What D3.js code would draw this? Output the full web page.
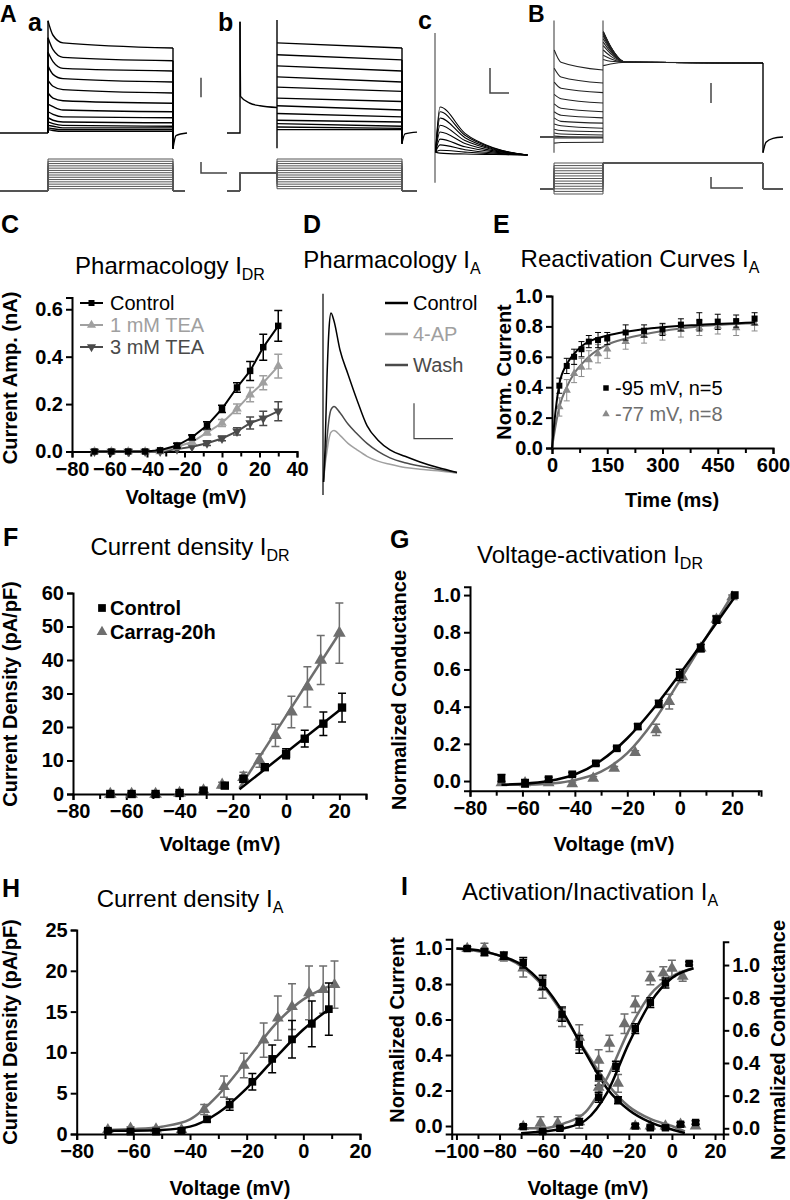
<!DOCTYPE html>
<html><head><meta charset="utf-8">
<script src="https://cdn.jsdelivr.net/npm/d3@7"></script>
<style>
body{margin:0;background:#fff}
svg{font-family:Arial,"Liberation Sans",sans-serif;display:block}
</style></head><body>
<svg id="fig" width="790" height="1200"></svg>
<script>
// ---------- data ----------
// A-a: K current family, arbitrary units (100 = steady level of largest trace)
const aPeak  = [132,112,95,79,62,47,34,25,18,13,9,6,4];
const aMid   = [115,98,84,69,55,41,31,22,15,11,8,5,3];
const aEarly = [106,89,76,64,51,38,27,19,13,9,6,4,2];
const aEnd   = [100,85,73,60,47,35,25,18,12,8,6,4,2];
const aSteps = [-70,-60,-50,-40,-30,-20,-10,0,10,20,30,40,50,60];
const aTail  = [[346,-18],[352,-3],[374,0]];
// A-b: prepulse then family
const bPre   = [[26,131],[27,43],[46,35],[66,32],[100,30]];
const bStart = [106,92,79,66,54,41,32,23,15,11,7,4];
const bEnd   = [100,86,73,60,49,37,27,19,13,8,5.5,4];
const bSteps = [-70,-60,-50,-40,-30,-20,-10,0,10,20,30,40,50,60];
const bTail  = [[350,-12],[356,-1],[380,1]];
// A-c: isolated transient family
const cPeak = [100,90,77,62,48,33,21,10,4];
const cMid  = [45,41,36,30,24,17,11,6,2];
const cLate = [14,13,11.5,10,8,6,4,2,1];
// B: reactivation protocol
const bbPeak  = [100,79,63,49,38,29,22,15,9,4.6,1,-1,-7];
const bbMid   = [86,69,56,44,33,25,18,13,7.5,3.5,0.5,-1,-6.3];
const bbEnd   = [77,62,51,39,29,22,16,10,6,2.3,0,-1,-6];
const bbPeak2 = [82,89,94,100,105,109,113,116,118,119,121,121,121];
const bbMid2  = [84,87,90,93,96,98,100,101,102,103,104,104,104];
const bbSteps = [-100,-90,-80,-70,-60,-50,-40,-30,-20,-10,0,10,20];
const bbTail  = [[450,-18],[456,-6],[470,-1.5],[490,0]];
// C: pharmacology IDR
const cVolt    = [-68,-59,-50,-41,-33,-24,-16,-8,0,8,15,22,30];
const cCtl     = [0,0,0,0,0.005,0.025,0.06,0.11,0.18,0.27,0.34,0.44,0.53];
const cCtlErr  = [0,0,0,0,0,0.01,0.01,0.015,0.015,0.02,0.04,0.055,0.065];
const cTea1    = [0,0,0,0,0,0.02,0.04,0.08,0.12,0.18,0.24,0.29,0.36];
const cTea1Err = [0,0,0,0,0,0,0.01,0.01,0.015,0.02,0.03,0.03,0.05];
const cTea3    = [0,0,0,0,0,0.01,0.02,0.035,0.055,0.085,0.12,0.14,0.17];
const cTea3Err = [0,0,0,0,0,0,0,0.01,0.01,0.015,0.025,0.03,0.04];
// D: IA traces
const dTime    = [1,4,8,12,16,22,34,50,68,88,110,134,164,194,230,268];
const dControl = [-5,15,60,90,100,95,77,62,46,30,21,15,11,7.5,4,1];
const dWash    = [-5,8,22,34,40,42,38,31,25,19,14,10,7,5,3,1];
const d4AP     = [-5,5,14,22,26,27,24,19,15,11,8,6,4,3,2,0.5];
// E: reactivation
const eTime     = [20,40,60,80,100,125,150,200,250,300,350,400,450,500,550];
const eBlack    = [0.41,0.54,0.60,0.65,0.70,0.71,0.72,0.76,0.77,0.78,0.81,0.83,0.83,0.835,0.85];
const eBlackErr = [0.05,0.05,0.05,0.05,0.04,0.05,0.04,0.05,0.04,0.04,0.04,0.06,0.05,0.04,0.04];
const eGrey     = [0.27,0.38,0.49,0.53,0.58,0.62,0.65,0.70,0.74,0.76,0.78,0.79,0.80,0.79,0.82];
const eGreyErr  = [0.06,0.07,0.06,0.06,0.06,0.06,0.06,0.05,0.05,0.05,0.05,0.05,0.05,0.05,0.05];
const eFitBlack = [[0,0],[10,0.25],[20,0.42],[40,0.55],[60,0.62],[80,0.67],[100,0.70],[150,0.74],[200,0.765],[300,0.795],[400,0.81],[550,0.825]];
const eFitGrey  = [[0,0],[10,0.15],[20,0.27],[40,0.40],[60,0.49],[80,0.55],[100,0.60],[150,0.68],[200,0.72],[300,0.77],[400,0.80],[550,0.82]];
// F: current density IDR
const fVoltCtl = [-66,-58,-49,-40,-31,-23,-16,-8,0,7,14,21];
const fCtl     = [0,0,0,0.3,1,2.5,4.5,8,12,16.5,21,25.8];
const fCtlErr  = [0.3,0.3,0.3,0.4,0.5,0.8,1,0.6,1.5,2.5,3.5,4.3];
const fVoltCar = [-66,-58,-49,-40,-31,-24,-16,-10,-4,2,8,13,20];
const fCar     = [0,0,0,0.3,1,2.7,5,10,17.5,24.5,32,40,48];
const fCarErr  = [0.3,0.3,0.3,0.4,0.5,0.8,1.5,2,3.3,4.7,6,7.3,9];
const fFitCtl  = [[-17.5,1.4],[21,25.6]];
const fFitCar  = [[-17.5,1.8],[20,48]];
// G: voltage activation IDR
const gVoltCtl = [-68,-59,-50,-41,-32,-24,-16,-8,0,8,14,21];
const gCtl     = [0.015,-0.012,0.01,0.036,0.095,0.176,0.293,0.415,0.571,0.715,0.868,1.0];
const gCtlErr  = [0.02,0.02,0.01,0.01,0.01,0.01,0.015,0.02,0.03,0.02,0.02,0];
const gVoltCar = [-68,-59,-50,-41,-33,-25,-17,-9,-4,1,8,14,20];
const gCar     = [-0.01,-0.01,-0.01,-0.015,0.015,0.068,0.153,0.275,0.427,0.56,0.715,0.87,0.99];
const gCarErr  = [0.01,0.01,0.01,0.01,0.01,0.01,0.01,0.03,0.04,0.03,0.02,0.02,0.01];
const gFitCtl  = [[-68,-0.02],[-60,-0.015],[-50,0.0],[-40,0.035],[-30,0.11],[-20,0.23],[-10,0.39],[0,0.575],[10,0.77],[21,0.99]];
const gFitCar  = [[-68,-0.02],[-60,-0.02],[-50,-0.015],[-40,0.005],[-30,0.05],[-20,0.15],[-10,0.32],[0,0.54],[10,0.77],[20,1.0]];
// H: current density IA
const hVoltCtl = [-69,-61,-52,-43,-34,-26,-18,-11,-4,3,9];
const hCtl     = [0.4,0.3,0.3,0.4,1.8,3.6,6.4,9.2,11.6,13.5,15.3];
const hCtlErr  = [0.2,0.2,0.2,0.2,0.3,0.7,1,1.7,2.3,2.8,3.2];
const hVoltCar = [-69,-61,-52,-43,-35,-28,-21,-14,-9,-4,2,7,11];
const hCar     = [0.5,0.7,0.6,0.5,3.0,5.8,8.4,11.5,14.2,15.6,17.3,17.7,18.3];
const hCarErr  = [0.2,0.2,0.2,0.2,0.6,1.3,1.5,2.1,2.7,2.8,3.3,2.9,2.9];
const hFitCtl  = [[-70,0.4],[-60,0.4],[-50,0.5],[-40,0.9],[-30,2.6],[-20,5.6],[-10,9.3],[0,12.8],[9,15.3]];
const hFitCar  = [[-70,0.5],[-60,0.6],[-50,0.9],[-40,1.8],[-30,4.8],[-20,9.0],[-10,13.4],[0,16.5],[9,18.1]];
// I: activation / inactivation IA
const iVoltIn   = [-95,-87,-78,-69,-60,-51,-43,-34,-25,-17,-10,-3,4,11];
const iInCtl    = [1.0,0.98,0.96,0.92,0.81,0.63,0.46,0.27,0.145,0.0,-0.01,-0.01,0.01,0.02];
const iInCtlErr = [0.01,0.02,0.02,0.03,0.04,0.04,0.05,0.04,0.02,0.01,0.01,0.01,0.01,0.01];
const iInCar    = [1.0,1.0,0.95,0.89,0.78,0.61,0.50,0.37,0.24,0.0,0.0,0.0,0.01,0.0];
const iInCarErr = [0.01,0.03,0.02,0.05,0.06,0.05,0.07,0.06,0.05,0.01,0.01,0.01,0.01,0.01];
const iVoltAcCtl = [-69,-60,-52,-43,-34,-26,-17,-10,-3,8];
const iAcCtl     = [0.01,-0.02,0.0,0.04,0.19,0.38,0.61,0.77,0.89,1.01];
const iAcCtlErr  = [0.01,0.01,0.01,0.02,0.03,0.03,0.03,0.03,0.03,0.01];
const iVoltAcCar = [-69,-61,-53,-43,-34,-29,-22,-17,-10,-4,0,5];
const iAcCar     = [0.01,0.03,0.03,0.04,0.25,0.52,0.64,0.76,0.92,0.95,0.98,0.93];
const iAcCarErr  = [0.01,0.04,0.04,0.04,0.04,0.05,0.06,0.05,0.04,0.04,0.05,0.03];
const iFitInCtl = [[-100,1.0],[-90,0.99],[-80,0.96],[-70,0.91],[-60,0.80],[-50,0.63],[-40,0.41],[-30,0.21],[-20,0.09],[-10,0.02],[0,-0.02],[6,-0.04]];
const iFitInCar = [[-100,1.0],[-90,0.985],[-80,0.96],[-70,0.90],[-60,0.79],[-50,0.62],[-40,0.42],[-30,0.24],[-20,0.11],[-10,0.04],[0,0.0],[6,-0.03]];
const iFitAcCtl = [[-70,-0.03],[-60,-0.02],[-50,0.0],[-40,0.05],[-30,0.22],[-20,0.52],[-10,0.77],[0,0.92],[10,0.98]];
const iFitAcCar = [[-70,0.0],[-60,0.0],[-50,0.03],[-40,0.1],[-30,0.31],[-20,0.6],[-10,0.82],[0,0.93],[10,0.98]];

// ---------- drawing ----------
const svg = d3.select("#fig");
const BLK = "#000", GRY = "#6e6e6e", LGT = "#a0a0a0", DRK = "#4a4a4a";
const TICK = 20, LAB = 20;

function txt(x, y, s, size, weight, anchor, fill) {
  return svg.append("text").attr("x", x).attr("y", y).attr("font-size", size)
    .attr("font-weight", weight || "normal").attr("text-anchor", anchor || "start")
    .attr("fill", fill || "#000").text(s);
}
function title(cx, y, main, sub) {
  const t = svg.append("text").attr("x", cx).attr("y", y).attr("text-anchor", "middle").attr("font-size", 24);
  t.append("tspan").text(main);
  t.append("tspan").attr("font-size", 16).attr("dy", 6).text(sub);
}
function vlabel(x, cy, s) {
  svg.append("text").attr("transform", `translate(${x},${cy}) rotate(-90)`)
    .attr("text-anchor", "middle").attr("font-size", LAB).attr("font-weight", "bold").text(s);
}
function styleAxis(g) {
  g.attr("font-size", TICK).attr("font-family", null).attr("font-weight", "bold");
  g.selectAll("path,line").attr("stroke-width", 2);
}
function xAxis(x, yPos, ticks, minor, fmt) {
  svg.append("g").attr("transform", `translate(0,${yPos})`)
    .call(d3.axisBottom(x).tickValues(ticks).tickSizeOuter(0).tickSize(6).tickPadding(4).tickFormat(fmt || d3.format("d")))
    .call(styleAxis);
  if (minor) svg.append("g").attr("transform", `translate(0,${yPos})`)
    .call(d3.axisBottom(x).tickValues(minor).tickSize(5).tickFormat(""))
    .call(g => g.select(".domain").remove()).call(styleAxis);
}
function yAxis(y, xPos, ticks, fmt, right) {
  const ax = right ? d3.axisRight(y) : d3.axisLeft(y);
  svg.append("g").attr("transform", `translate(${xPos},0)`)
    .call(ax.tickValues(ticks).tickSizeOuter(0).tickSize(6).tickPadding(3).tickFormat(fmt || d3.format("d")))
    .call(styleAxis);
}
function series(x, y, o) {
  const g = svg.append("g");
  if (o.line) g.append("path").datum(o.line)
    .attr("d", d3.line().x(d => x(d[0])).y(d => y(d[1])).curve(o.curve || d3.curveLinear))
    .attr("fill", "none").attr("stroke", o.lineColor || o.color).attr("stroke-width", o.lw || 2);
  const cap = o.cap || 4;
  o.v.forEach((v, i) => {
    const e = o.err ? o.err[i] : 0;
    if (!e) return;
    const cx = x(v), y1 = y(o.val[i] - e), y2 = y(o.val[i] + e);
    g.append("path").attr("d", `M${cx},${y1}V${y2}M${cx - cap},${y1}h${2 * cap}M${cx - cap},${y2}h${2 * cap}`)
      .attr("stroke", o.color).attr("stroke-width", o.ew || 1.5).attr("fill", "none");
  });
  g.selectAll("path.m").data(o.v).join("path").attr("class", "m")
    .attr("transform", (v, i) => `translate(${x(v)},${y(o.val[i])})${o.flip ? " rotate(180)" : ""}`)
    .attr("d", d3.symbol(o.sym, o.size)).attr("fill", o.color);
}
function trace(xs, ys, pts, curve, color, w) {
  svg.append("path").datum(pts)
    .attr("d", d3.line().x(d => xs(d[0])).y(d => ys(d[1])).curve(curve || d3.curveLinear))
    .attr("fill", "none").attr("stroke", color || BLK).attr("stroke-width", w || 1.4);
}
const MONO = d3.curveMonotoneX;

// panel letters
[["A",0,22],["B",528,22]].forEach(d => txt(d[1], d[2], d[0], 23, "bold"));
[["C",1,233],["D",303,233],["E",493,233],["F",3,546],["G",390,548],["H",2,897],["I",401,895]]
  .forEach(d => txt(d[1], d[2], d[0], 25, "bold"));
[["a",28,31],["b",218,31],["c",418,29]].forEach(d => txt(d[1], d[2], d[0], 25, "bold"));

// ----- A-a -----
{
  const xs = d3.scaleLinear().domain([0, 400]).range([0, 200]);
  const ys = d3.scaleLinear().domain([0, 100]).range([133, 48]);
  const vs = d3.scaleLinear().domain([-80, 60]).range([191, 159]);
  trace(xs, ys, [[0, 0], [96, 0]]);
  aPeak.forEach((p, i) => {
    trace(xs, ys, [[96, 0], [96, p]]);
    trace(xs, ys, [[96, p], [106, aMid[i]], [126, aEarly[i]], [346, aEnd[i]]], MONO);
    trace(xs, ys, [[346, aEnd[i]], [346, aTail[0][1]]]);
  });
  trace(xs, ys, aTail, MONO);
  aSteps.forEach(v => trace(xs, vs, [[0, -80], [96, -80], [96, v], [346, v], [346, -80], [370, -80]], null, "#555", 1));
  trace(xs, ys, [[402, 42], [402, 65]], null, "#444", 1.5); // scale bar
}
// ----- A-b -----
{
  const xs = d3.scaleLinear().domain([0, 400]).range([227, 427]);
  const ys = d3.scaleLinear().domain([0, 100]).range([133, 48]);
  const vs = d3.scaleLinear().domain([-80, 60]).range([191, 159]);
  trace(xs, ys, [[0, 0], [26, 0], [26, 131]]);
  trace(xs, ys, bPre, MONO);
  trace(xs, ys, [[100, 133], [100, -18]]);
  bStart.forEach((s, i) => {
    trace(xs, ys, [[100, s], [350, bEnd[i]]]);
    trace(xs, ys, [[350, bEnd[i]], [350, bTail[0][1]]]);
  });
  trace(xs, ys, bTail, MONO);
  bSteps.forEach(v => trace(xs, vs, [[0, -80], [26, -80], [26, 0], [100, 0], [100, v], [350, v], [350, -80], [380, -80]], null, "#555", 1));
  trace(xs, vs, [[-52, 47], [-52, -1], [0, -1]], null, "#444", 1.5); // scale bar
}
// ----- A-c -----
{
  const xs = d3.scaleLinear().domain([0, 200]).range([435, 535]);
  const ys = d3.scaleLinear().domain([0, 100]).range([155, 107]);
  trace(xs, ys, [[0, 254], [0, -58]], null, "#555", 1.2);
  cPeak.forEach((p, i) => trace(xs, ys, [[1, 6], [10, p], [60, cMid[i]], [120, cLate[i]], [185, 0]], MONO, BLK, 1.1));
  trace(xs, ys, [[110, 181], [110, 129], [148, 129]], null, "#444", 1.5); // scale bar
}
// ----- B -----
{
  const xs = d3.scaleLinear().domain([0, 500]).range([538, 788]);
  const ys = d3.scaleLinear().domain([0, 100]).range([137, 50]);
  const vs = d3.scaleLinear().domain([-100, 20]).range([194, 163]);
  trace(xs, ys, [[4, 0], [32, 0]]);
  trace(xs, ys, [[32, 134], [32, -18]], null, "#555", 1.2);
  trace(xs, ys, [[130, 134], [130, -7]], null, "#555", 1.2);
  bbPeak.forEach((p, i) => {
    trace(xs, ys, [[32.5, p], [46, bbMid[i]], [130, bbEnd[i]]], MONO, "#222", 1.1);
    trace(xs, ys, [[130.5, bbPeak2[i]], [145, bbMid2[i]], [175, 86], [450, 85]], MONO, "#222", 1.1);
  });
  trace(xs, ys, [[450, 85], [450, -18]]);
  trace(xs, ys, bbTail, MONO);
  bbSteps.forEach(v => trace(xs, vs, [[4, -80], [32, -80], [32, v], [130, v], [130, 20], [450, 20], [450, -80], [490, -80]], null, "#555", 1));
  trace(xs, ys, [[346, 62], [346, 39]], null, "#444", 1.5); // scale bars
  trace(xs, vs, [[346, -34], [346, -77], [410, -77]], null, "#444", 1.5);
}

// ----- C -----
{
  const x = d3.scaleLinear().domain([-80, 40]).range([72, 297]);
  const y = d3.scaleLinear().domain([0, 0.65]).range([451.5, 297.4]);
  title(170, 274, "Pharmacology I", "DR");
  xAxis(x, 451.5, [-80, -60, -40, -20, 0, 20, 40], [-70, -50, -30, -10, 10, 30]);
  yAxis(y, 72, [0, 0.2, 0.4, 0.6], d3.format(".1f"));
  vlabel(17, 378, "Current Amp. (nA)");
  txt(186, 504, "Voltage (mV)", LAB, "bold", "middle");
  const lineOf = (v, a) => v.map((d, i) => [d, a[i]]);
  series(x, y, { v: cVolt, val: cTea3, err: cTea3Err, color: DRK, sym: d3.symbolTriangle, size: 40, flip: true, line: lineOf(cVolt, cTea3) });
  series(x, y, { v: cVolt, val: cTea1, err: cTea1Err, color: LGT, sym: d3.symbolTriangle, size: 40, line: lineOf(cVolt, cTea1) });
  series(x, y, { v: cVolt, val: cCtl, err: cCtlErr, color: BLK, sym: d3.symbolSquare, size: 42, line: lineOf(cVolt, cCtl) });
  const leg = [["Control", BLK, d3.symbolSquare, false], ["1 mM TEA", LGT, d3.symbolTriangle, false], ["3 mM TEA", DRK, d3.symbolTriangle, true]];
  leg.forEach((d, i) => {
    const yy = 303 + i * 22;
    svg.append("line").attr("x1", 80).attr("x2", 103).attr("y1", yy).attr("y2", yy).attr("stroke", d[1]).attr("stroke-width", 2);
    svg.append("path").attr("transform", `translate(91.5,${yy})${d[3] ? " rotate(180)" : ""}`).attr("d", d3.symbol(d[2], 36)).attr("fill", d[1]);
    txt(110, yy + 7, d[0], 20, "normal", "start", d[1]);
  });
}
// ----- D -----
{
  const xs = d3.scaleLinear().domain([0, 270]).range([323, 458]);
  const ys = d3.scaleLinear().domain([0, 100]).range([474, 313]);
  title(392, 268, "Pharmacology I", "A");
  trace(xs, ys, [[0, 112], [0, -13]], null, "#333", 1.5);
  const pts = a => dTime.map((t, i) => [t, a[i]]);
  trace(xs, ys, pts(d4AP), MONO, LGT, 1.5);
  trace(xs, ys, pts(dWash), MONO, DRK, 1.5);
  trace(xs, ys, pts(dControl), MONO, BLK, 1.5);
  trace(xs, ys, [[182, 44], [182, 22], [260, 22]], null, "#444", 1.2); // scale bar
  [["Control", BLK], ["4-AP", LGT], ["Wash", DRK]].forEach((d, i) => {
    const yy = 303 + i * 31;
    svg.append("line").attr("x1", 385).attr("x2", 408).attr("y1", yy).attr("y2", yy).attr("stroke", d[1]).attr("stroke-width", 2.5);
    txt(413, yy + 7, d[0], 20, "normal", "start", d[1]);
  });
}
// ----- E -----
{
  const x = d3.scaleLinear().domain([0, 600]).range([552, 773]);
  const y = d3.scaleLinear().domain([0, 1]).range([448, 296]);
  title(640, 267, "Reactivation Curves I", "A");
  xAxis(x, 448, [0, 150, 300, 450, 600], [75, 225, 375, 525]);
  yAxis(y, 552, [0, 0.2, 0.4, 0.6, 0.8, 1.0], d3.format(".1f"));
  vlabel(511, 372, "Norm. Current");
  txt(672, 507, "Time (ms)", LAB, "bold", "middle");
  series(x, y, { v: eTime, val: eGrey, err: eGreyErr, color: "#8a8a8a", sym: d3.symbolTriangle, size: 30, ew: 1, cap: 3, line: eFitGrey, curve: MONO, lineColor: GRY });
  series(x, y, { v: eTime, val: eBlack, err: eBlackErr, color: BLK, sym: d3.symbolSquare, size: 36, ew: 1, cap: 3, line: eFitBlack, curve: MONO });
  svg.append("path").attr("transform", "translate(606,388)").attr("d", d3.symbol(d3.symbolSquare, 30)).attr("fill", BLK);
  txt(615, 395, "-95 mV, n=5", 20);
  svg.append("path").attr("transform", "translate(606,414)").attr("d", d3.symbol(d3.symbolTriangle, 24)).attr("fill", "#8a8a8a");
  txt(615, 421, "-77 mV, n=8", 20, "normal", "start", GRY);
}
// ----- F -----
{
  const x = d3.scaleLinear().domain([-80, 30]).range([73, 366]);
  const y = d3.scaleLinear().domain([0, 60]).range([794, 593]);
  title(190, 555, "Current density I", "DR");
  xAxis(x, 794, [-80, -60, -40, -20, 0, 20], [-70, -50, -30, -10, 10, 30]);
  yAxis(y, 73, [0, 10, 20, 30, 40, 50, 60]);
  vlabel(17, 694, "Current Density (pA/pF)");
  txt(220, 851, "Voltage (mV)", LAB, "bold", "middle");
  series(x, y, { v: fVoltCar, val: fCar, err: fCarErr, color: GRY, sym: d3.symbolTriangle, size: 70, line: fFitCar, lw: 2.5 });
  series(x, y, { v: fVoltCtl, val: fCtl, err: fCtlErr, color: BLK, sym: d3.symbolSquare, size: 70, line: fFitCtl, lw: 2.5 });
  svg.append("path").attr("transform", "translate(102,608)").attr("d", d3.symbol(d3.symbolSquare, 60)).attr("fill", BLK);
  txt(110, 615, "Control", 20, "bold");
  svg.append("path").attr("transform", "translate(102,632)").attr("d", d3.symbol(d3.symbolTriangle, 50)).attr("fill", GRY);
  txt(110, 639, "Carrag-20h", 20, "bold");
}
// ----- G -----
{
  const x = d3.scaleLinear().domain([-80, 31]).range([470, 761]);
  const y = d3.scaleLinear().domain([-0.052, 1.045]).range([790.7, 586.7]);
  title(590, 563, "Voltage-activation I", "DR");
  xAxis(x, 790.7, [-80, -60, -40, -20, 0, 20], [-70, -50, -30, -10, 10, 30]);
  yAxis(y, 470, [0, 0.2, 0.4, 0.6, 0.8, 1.0], d3.format(".1f"));
  vlabel(406, 690, "Normalized Conductance");
  txt(614, 851, "Voltage (mV)", LAB, "bold", "middle");
  series(x, y, { v: gVoltCar, val: gCar, err: gCarErr, color: GRY, sym: d3.symbolTriangle, size: 60, line: gFitCar, curve: MONO, lw: 2.5 });
  series(x, y, { v: gVoltCtl, val: gCtl, err: gCtlErr, color: BLK, sym: d3.symbolSquare, size: 60, line: gFitCtl, curve: MONO, lw: 2.5 });
}
// ----- H -----
{
  const x = d3.scaleLinear().domain([-80, 20]).range([76.7, 360]);
  const y = d3.scaleLinear().domain([0, 25]).range([1134, 930]);
  title(190, 907, "Current density I", "A");
  xAxis(x, 1134, [-80, -60, -40, -20, 0, 20], [-70, -50, -30, -10, 10]);
  yAxis(y, 76.7, [0, 5, 10, 15, 20, 25]);
  vlabel(17, 1032, "Current Density (pA/pF)");
  txt(230, 1195, "Voltage (mV)", LAB, "bold", "middle");
  series(x, y, { v: hVoltCar, val: hCar, err: hCarErr, color: GRY, sym: d3.symbolTriangle, size: 60, line: hFitCar, curve: MONO, lw: 2.5 });
  series(x, y, { v: hVoltCtl, val: hCtl, err: hCtlErr, color: BLK, sym: d3.symbolSquare, size: 60, line: hFitCtl, curve: MONO, lw: 2.5 });
}
// ----- I -----
{
  const x = d3.scaleLinear().domain([-102.2, 23.85]).range([451.7, 723.3]);
  const yL = d3.scaleLinear().domain([-0.045, 1.052]).range([1134, 939.3]);
  const yR = d3.scaleLinear().domain([-0.035, 1.143]).range([1134, 941.7]);
  title(590, 900, "Activation/Inactivation I", "A");
  xAxis(x, 1134, [-100, -80, -60, -40, -20, 0, 20], [-90, -70, -50, -30, -10, 10]);
  yAxis(yL, 451.7, [0, 0.2, 0.4, 0.6, 0.8, 1.0], d3.format(".1f"));
  yAxis(yR, 723.3, [0, 0.2, 0.4, 0.6, 0.8, 1.0], d3.format(".1f"), true);
  vlabel(404, 1030, "Normalized Current");
  vlabel(785, 1040, "Normalized Conductance");
  txt(588, 1195, "Voltage (mV)", LAB, "bold", "middle");
  series(x, yL, { v: iVoltIn, val: iInCar, err: iInCarErr, color: GRY, sym: d3.symbolTriangle, size: 60, line: iFitInCar, curve: MONO, lw: 2.5 });
  series(x, yL, { v: iVoltIn, val: iInCtl, err: iInCtlErr, color: BLK, sym: d3.symbolSquare, size: 55, line: iFitInCtl, curve: MONO, lw: 2.5 });
  series(x, yR, { v: iVoltAcCar, val: iAcCar, err: iAcCarErr, color: GRY, sym: d3.symbolTriangle, size: 60, line: iFitAcCar, curve: MONO, lw: 2.5 });
  series(x, yR, { v: iVoltAcCtl, val: iAcCtl, err: iAcCtlErr, color: BLK, sym: d3.symbolSquare, size: 55, line: iFitAcCtl, curve: MONO, lw: 2.5 });
}
</script></body></html>
